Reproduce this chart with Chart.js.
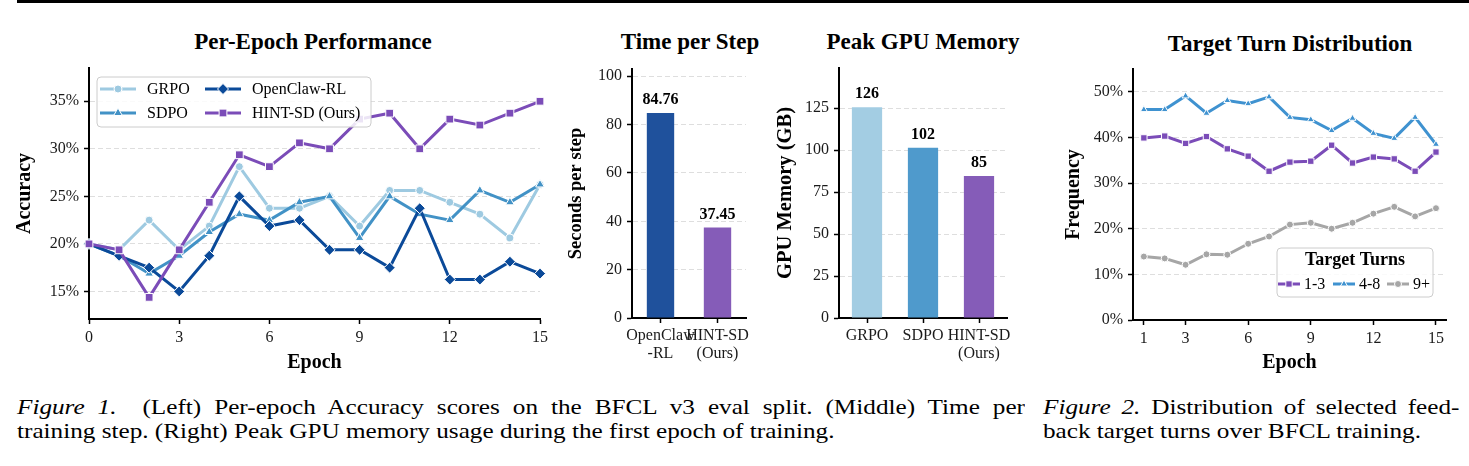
<!DOCTYPE html>
<html><head><meta charset="utf-8">
<script src="https://cdn.jsdelivr.net/npm/chart.js@4.4.1/dist/chart.umd.min.js"></script>
<style>
body{margin:0;background:#fff;}
#wrap{position:relative;width:1469px;height:466px;overflow:hidden;font-family:'Liberation Serif','Times New Roman',serif;color:#000;}
canvas{position:absolute;top:0;}
.title{position:absolute;font-weight:bold;font-size:23px;transform:translateX(-50%);white-space:nowrap;line-height:26px;}
.cap{position:absolute;font-size:21px;line-height:24px;transform:scaleX(1.2);transform-origin:0 0;}
.just{text-align:justify;text-align-last:justify;}
.nat{white-space:nowrap;}
</style></head>
<body><div id="wrap">
<div style="position:absolute;left:17px;top:0;width:1452px;height:3px;background:#000"></div>
<div class="title" style="left:313px;top:29px">Per-Epoch Performance</div>
<div class="title" style="left:690px;top:29px">Time per Step</div>
<div class="title" style="left:923px;top:29px">Peak GPU Memory</div>
<div class="title" style="left:1290px;top:31px">Target Turn Distribution</div>
<canvas id="c1" width="560" height="380" style="left:0px"></canvas>
<canvas id="c2" width="210" height="380" style="left:560px"></canvas>
<canvas id="c3" width="260" height="380" style="left:770px"></canvas>
<canvas id="c4" width="429" height="380" style="left:1040px"></canvas>
<div class="cap" style="left:17px;top:395px">
  <div class="just" style="width:840px"><i>Figure 1.</i>&nbsp; (Left) Per-epoch Accuracy scores on the BFCL v3 eval split. (Middle) Time per</div>
  <div class="nat">training step. (Right) Peak GPU memory usage during the first epoch of training.</div>
</div>
<div class="cap" style="left:1043px;top:395px">
  <div class="just" style="width:347px"><i>Figure 2.</i> Distribution of selected feed-</div>
  <div class="nat">back target turns over BFCL training.</div>
</div>
</div>
<script>
// ---------- data ----------
const epochs = [0,1,2,3,4,5,6,7,8,9,10,11,12,13,14,15];
const epochTicks = [0,3,6,9,12,15];
const accTicks = [15,20,25,30,35];
const grpoAcc     = [20.0,19.375,22.5,19.375,21.875,28.125,23.75,23.75,25.0,21.875,25.625,25.625,24.375,23.125,20.625,26.25];
const sdpoAcc     = [20.0,18.75,16.875,18.75,21.25,23.125,22.5,24.375,25.0,20.625,25.0,23.125,22.5,25.625,24.375,26.25];
const openclawAcc = [20.0,18.75,17.5,15.0,18.75,25.0,21.875,22.5,19.375,19.375,17.5,23.75,16.25,16.25,18.125,16.875];
const hintsdAcc   = [20.0,19.375,14.375,19.375,24.375,29.375,28.125,30.625,30.0,33.125,33.75,30.0,33.125,32.5,33.75,35.0];

const timeLabels = [["OpenClaw","-RL"],["HINT-SD","(Ours)"]];
const timeValues = [84.76, 37.45];
const timeTicks = [0,20,40,60,80,100];

const memLabels = ["GRPO","SDPO",["HINT-SD","(Ours)"]];
const memValues = [125.6, 101.5, 84.6];
const memTicks = [0,25,50,75,100,125];

const turnEpochs = [1,2,3,4,5,6,7,8,9,10,11,12,13,14,15];
const turnTicks = [1,3,6,9,12,15];
const freqTicks = [0,10,20,30,40,50];
const turns1to3 = [39.9,40.3,38.7,40.2,37.5,35.9,32.6,34.6,34.8,38.3,34.4,35.7,35.3,32.6,36.8];
const turns4to8 = [46.1,46.1,49.1,45.3,48.1,47.4,48.9,44.4,43.9,41.5,44.2,40.9,39.8,44.4,38.5];
const turns9plus = [13.9,13.5,12.1,14.4,14.3,16.7,18.3,20.9,21.3,20.0,21.3,23.3,24.8,22.7,24.5];

// ---------- styles ----------
const C_GRPO = '#9ecae1', C_SDPO = '#4292c6', C_OC = '#0b4a99', C_HINT = '#7b4cb8';
const timeColors = ['#1f519c', '#855cb8'];
const memColors = ['#a3cde3', '#4f9acc', '#855cb8'];
const C_T13 = '#7b4cb8', C_T48 = '#3f92d0', C_T9 = '#a6a6a6';
const FONT = "'Liberation Serif','Times New Roman',serif";
const tickFont = {family: FONT, size: 16};
function axFont(sz){ return {family: FONT, size: sz, weight: 'bold'}; }

function pts(xs, ys){ return xs.map((x,i)=>({x:x, y:ys[i]})); }
function setTicks(vals){ return function(s){ s.ticks = vals.map(v=>({value:v})); }; }
const pct = v => v + '%';

function drawMarker(ctx, style, x, y, r, fill, stroke, bw){
  ctx.save();
  ctx.fillStyle = fill; ctx.strokeStyle = stroke; ctx.lineWidth = bw;
  ctx.beginPath();
  if (style === 'circle') { ctx.arc(x, y, r, 0, Math.PI*2); }
  else if (style === 'triangle') {
    ctx.moveTo(x, y - r); ctx.lineTo(x + r*0.866, y + r*0.5); ctx.lineTo(x - r*0.866, y + r*0.5); ctx.closePath();
  } else if (style === 'rectRot') {
    ctx.moveTo(x, y - r); ctx.lineTo(x + r, y); ctx.lineTo(x, y + r); ctx.lineTo(x - r, y); ctx.closePath();
  } else {
    const s = r * Math.SQRT1_2; ctx.rect(x - s, y - s, 2*s, 2*s);
  }
  ctx.fill(); if (bw) ctx.stroke();
  ctx.restore();
}

const boxLegend = {
  id: 'boxLegend',
  afterDraw(chart, args, o){
    if (!o || !o.items) return;
    const ctx = chart.ctx;
    ctx.save();
    ctx.beginPath();
    if (ctx.roundRect) ctx.roundRect(o.x, o.y, o.w, o.h, 4); else ctx.rect(o.x, o.y, o.w, o.h);
    ctx.fillStyle = 'rgba(255,255,255,0.85)'; ctx.fill();
    ctx.strokeStyle = '#cccccc'; ctx.lineWidth = 1; ctx.stroke();
    if (o.title) {
      ctx.font = 'bold ' + o.titleSize + 'px ' + FONT; ctx.fillStyle = '#000';
      ctx.textAlign = 'center'; ctx.textBaseline = 'middle';
      ctx.fillText(o.title, o.x + o.w/2, o.titleY);
    }
    o.items.forEach(it => {
      const ds = chart.data.datasets[it.i];
      ctx.strokeStyle = ds.borderColor; ctx.lineWidth = ds.borderWidth;
      ctx.beginPath(); ctx.moveTo(it.x, it.y); ctx.lineTo(it.x + o.handle, it.y); ctx.stroke();
      drawMarker(ctx, ds.pointStyle, it.x + o.handle/2, it.y, ds.pointRadius, ds.borderColor, '#fff', 1);
      ctx.font = o.size + 'px ' + FONT; ctx.fillStyle = '#000'; ctx.textAlign = 'left'; ctx.textBaseline = 'middle';
      ctx.fillText(ds.label, it.x + o.handle + o.gap, it.y + 1);
    });
    ctx.restore();
  }
};
const valueLabels = {
  id: 'valueLabels',
  afterDatasetsDraw(chart, args, o){
    if (!o || o.decimals === undefined) return;
    const ctx = chart.ctx, meta = chart.getDatasetMeta(0), vals = chart.data.datasets[0].data;
    ctx.save();
    ctx.font = 'bold 16px ' + FONT; ctx.fillStyle = '#000'; ctx.textAlign = 'center'; ctx.textBaseline = 'bottom';
    meta.data.forEach((b,i) => ctx.fillText(vals[i].toFixed(o.decimals), b.x, b.y - 5));
    ctx.restore();
  }
};
Chart.register(boxLegend, valueLabels);

function xAxis(h, lh, extra){
  return Object.assign({
    grid: {drawOnChartArea: false, drawTicks: true, tickLength: 5, tickColor: '#000', tickWidth: 1.5, offset: false},
    border: {color: '#000', width: 2},
    ticks: {font: Object.assign({}, tickFont, {lineHeight: lh}), color: '#1a1a1a', padding: 4, maxRotation: 0, autoSkip: false},
    afterFit(s){ s.height = h; }
  }, extra);
}
function yAxis(w, cb, extra){
  const t = {font: tickFont, color: '#1a1a1a', padding: 5};
  if (cb) t.callback = cb;
  return Object.assign({
    grid: {color: '#dedede', lineWidth: 1, drawTicks: true, tickLength: 5, tickColor: '#000', tickWidth: 1.5},
    border: {color: '#000', width: 2, dash: [5,3]},
    ticks: t,
    afterFit(s){ s.width = w; }
  }, extra);
}
const baseOpts = {responsive: false, animation: false, events: []};

function lineDs(label, xs, ys, color, style, r, order){
  return {label, data: pts(xs, ys), borderColor: color, backgroundColor: color, borderWidth: 3,
    pointStyle: style, pointRadius: r, pointBackgroundColor: color, pointBorderColor: '#fff', pointBorderWidth: 1,
    tension: 0, clip: 10, order};
}

// ---------- chart 1 ----------
new Chart(document.getElementById('c1'), {
  type: 'line',
  data: {datasets: [
    lineDs('GRPO', epochs, grpoAcc, C_GRPO, 'circle', 4, 4),
    lineDs('SDPO', epochs, sdpoAcc, C_SDPO, 'triangle', 5, 3),
    lineDs('OpenClaw-RL', epochs, openclawAcc, C_OC, 'rectRot', 5.5, 2),
    lineDs('HINT-SD (Ours)', epochs, hintsdAcc, C_HINT, 'rect', 5.5, 1)
  ]},
  options: Object.assign({}, baseOpts, {
    layout: {padding: {left: 0, top: 68, right: 20, bottom: 0}},
    plugins: {legend: {display: false}, tooltip: {enabled: false},
      boxLegend: {x: 97, y: 77, w: 274, h: 50, handle: 36, gap: 11, size: 16,
        items: [{i:0, x:100, y:89}, {i:1, x:100, y:113}, {i:2, x:205, y:89}, {i:3, x:205, y:113}]}},
    scales: {
      x: xAxis(61, 1.2, {type: 'linear', min: 0, max: 15, afterBuildTicks: setTicks(epochTicks),
        title: {display: true, text: 'Epoch', font: axFont(20), color: '#000', padding: {top: 0, bottom: 5}}}),
      y: yAxis(89, pct, {type: 'linear', min: 12.1, max: 38.5, afterBuildTicks: setTicks(accTicks),
        title: {display: true, text: 'Accuracy', font: axFont(20), color: '#000', padding: {top: 13, bottom: 0}}})
    }
  })
});

// ---------- chart 2 ----------
new Chart(document.getElementById('c2'), {
  type: 'bar',
  data: {labels: timeLabels, datasets: [{data: timeValues, backgroundColor: timeColors, categoryPercentage: 1, barPercentage: 0.48}]},
  options: Object.assign({}, baseOpts, {
    layout: {padding: {left: 0, top: 69, right: 24, bottom: 0}},
    plugins: {legend: {display: false}, tooltip: {enabled: false}, valueLabels: {decimals: 2}},
    scales: {
      x: xAxis(62, 1.1, {}),
      y: yAxis(72, null, {min: 0, max: 103, afterBuildTicks: setTicks(timeTicks),
        title: {display: true, text: 'Seconds per step', font: axFont(18.5), color: '#000', padding: {top: 5, bottom: 0}}})
    }
  })
});

// ---------- chart 3 ----------
new Chart(document.getElementById('c3'), {
  type: 'bar',
  data: {labels: memLabels, datasets: [{data: memValues, backgroundColor: memColors, categoryPercentage: 1, barPercentage: 0.54}]},
  options: Object.assign({}, baseOpts, {
    layout: {padding: {left: 0, top: 68, right: 23, bottom: 0}},
    plugins: {legend: {display: false}, tooltip: {enabled: false}, valueLabels: {decimals: 0}},
    scales: {
      x: xAxis(62, 1.1, {}),
      y: yAxis(69, null, {min: 0, max: 149, afterBuildTicks: setTicks(memTicks),
        title: {display: true, text: 'GPU Memory (GB)', font: axFont(20.5), color: '#000', padding: {top: 3, bottom: 0}}})
    }
  })
});

// ---------- chart 4 ----------
new Chart(document.getElementById('c4'), {
  type: 'line',
  data: {datasets: [
    lineDs('1-3', turnEpochs, turns1to3, C_T13, 'rect', 4.5, 1),
    lineDs('4-8', turnEpochs, turns4to8, C_T48, 'triangle', 4, 2),
    lineDs('9+', turnEpochs, turns9plus, C_T9, 'circle', 3.5, 3)
  ]},
  options: Object.assign({}, baseOpts, {
    layout: {padding: {left: 0, top: 69, right: 23, bottom: 0}},
    plugins: {legend: {display: false}, tooltip: {enabled: false},
      boxLegend: {x: 237, y: 248, w: 156, h: 49, handle: 22, gap: 4, size: 16, title: 'Target Turns', titleSize: 18, titleY: 260,
        items: [{i:0, x:238, y:284}, {i:1, x:293, y:284}, {i:2, x:347, y:284}]}},
    scales: {
      x: xAxis(60, 1.2, {type: 'linear', min: 0.48, max: 15.48, afterBuildTicks: setTicks(turnTicks),
        title: {display: true, text: 'Epoch', font: axFont(20), color: '#000', padding: {top: 0, bottom: 5}}}),
      y: yAxis(93, pct, {type: 'linear', min: 0, max: 55, afterBuildTicks: setTicks(freqTicks),
        title: {display: true, text: 'Frequency', font: axFont(20), color: '#000', padding: {top: 22, bottom: 0}}})
    }
  })
});
</script>
</body></html>
